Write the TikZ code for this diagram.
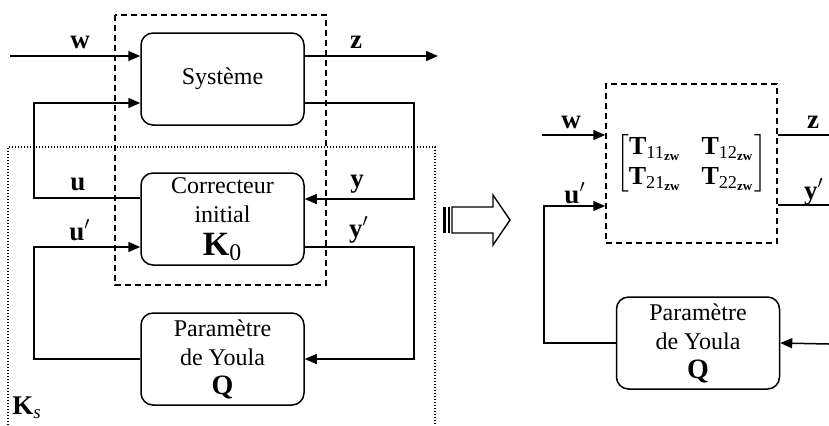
\documentclass[tikz,border=0pt]{standalone}
\usepackage{amsmath}
\usepackage{fontspec}
\setmainfont{Liberation Serif}
\usetikzlibrary{arrows.meta,calc}
\tikzset{
    >={Triangle[length=6pt,width=5pt]}, % filled triangle heads
    wire/.style={line width=0.75pt}, % every signal line
    block/.style={draw, line width=0.75pt, rounded corners=6pt, minimum width=81.5pt, minimum height=46pt, align=center, inner sep=1pt}, % rounded boxes
    sig/.style={font=\fontsize{13.5}{15}\selectfont}, % signal names
    dashbox/.style={draw, line width=0.75pt, dash pattern=on 3pt off 2pt}, % the generalized plant
    dotbox/.style={line width=0.6pt, dash pattern=on 0.6pt off 0.9pt}, % the new controller
}
\newcommand{\bigK}{{\fontsize{17}{18}\selectfont$\textbf{K}_{\text{0}}$}}
\newcommand{\bigQ}{{\fontsize{14}{15}\selectfont\textbf{Q}}}

\begin{document}
\begin{tikzpicture}[x=0.5pt, y=-0.5pt, font=\fontsize{12}{14.5}\selectfont]
    \useasboundingbox (0,0) rectangle (829,425);

    % left: closed loop with the Youla parameter
    \draw[dashbox] (115,15) rectangle (326,285);
    \draw[dotbox] (8,425) -- (8,147) -- (435,147) -- (435,425);

    \node[block] (sys) at (222.5,79) {Système};
    \node[block] (corr) at (222.5,219) {Correcteur\\initial\\[2pt]\bigK};
    \node[block] (youla) at (222.5,359) {Paramètre\\de Youla\\\bigQ};

    \coordinate (win) at (10,56);
    \coordinate (zout) at (438,56);
    \coordinate (yR) at (414,199);
    \coordinate (uL) at (34,198);
    \coordinate (upL) at (34,247);
    \coordinate (ypR) at (414,247);

    \draw[wire,->] (win) -- (sys.west |- win);
    \draw[wire,->] (sys.east |- zout) -- (zout);
    \draw[wire,->] ($(sys.east)+(0,24)$) -| (yR) -- (corr.east |- yR);
    \draw[wire,->] (corr.west |- uL) -- (uL) |- ($(sys.west)+(0,24)$);
    \draw[wire,->] (youla.west) -| (upL) -- (corr.west |- upL);
    \draw[wire,->] (corr.east |- ypR) -- (ypR) |- (youla.east);

    \node[sig] (lw) at (80,42) {\textbf{w}};
    \node[sig] (lz) at (356,42) {\textbf{z}};
    \node[sig] (lu) at (78,184) {\textbf{u}};
    \node[sig] (ly) at (357,184) {\textbf{y}};
    \node[sig] (lup) at (80,230) {$\textbf{u}'$};
    \node[sig] (lyp) at (359,230) {$\textbf{y}'$};
    \node[sig] (lKs) at (27,408) {$\textbf{K}_{\textit{s}}$};

    % striped block arrow
    \fill (443,207) rectangle (446,233);
    \fill (448,207) rectangle (450,233);
    \draw[line width=0.7pt] (452,207) -- (493,207) -- (493,195) -- (510,220) -- (493,245) -- (493,233) -- (452,233) -- cycle;

    % right: equivalent form
    \node[dashbox, minimum width=85.5pt, minimum height=79.5pt, font=\fontsize{13}{15}\selectfont] (Tzw) at (691.5,163.5)
        {$\begin{bmatrix}
            \textbf{T}_{\text{11}_{\textbf{zw}}} & \textbf{T}_{\text{12}_{\textbf{zw}}}\\
            \textbf{T}_{\text{21}_{\textbf{zw}}} & \textbf{T}_{\text{22}_{\textbf{zw}}}
        \end{bmatrix}$};
    \node[block] (youlaR) at (698,343) {Paramètre\\de Youla\\\bigQ};

    \coordinate (wR) at (542,135);
    \coordinate (upR) at (544,206);
    \coordinate (zR) at (829,135);
    \coordinate (ypRR) at (829,205);
    \coordinate (qin) at (829,344);

    \draw[wire,->] (wR) -- (Tzw.west |- wR);
    \draw[wire,->] (youlaR.west) -| (upR) -- (Tzw.west |- upR);
    \draw[wire] (Tzw.east |- zR) -- (zR);
    \draw[wire] (Tzw.east |- ypRR) -- (ypRR);
    \draw[wire,->] (qin) -- (youlaR.east);

    \node[sig] (lwR) at (571,122) {\textbf{w}};
    \node[sig] (lupR) at (575,193) {$\textbf{u}'$};
    \node[sig] (lzR) at (813,122) {\textbf{z}};
    \node[sig] (lypR) at (814,192) {$\textbf{y}'$};
\end{tikzpicture}
\end{document}
